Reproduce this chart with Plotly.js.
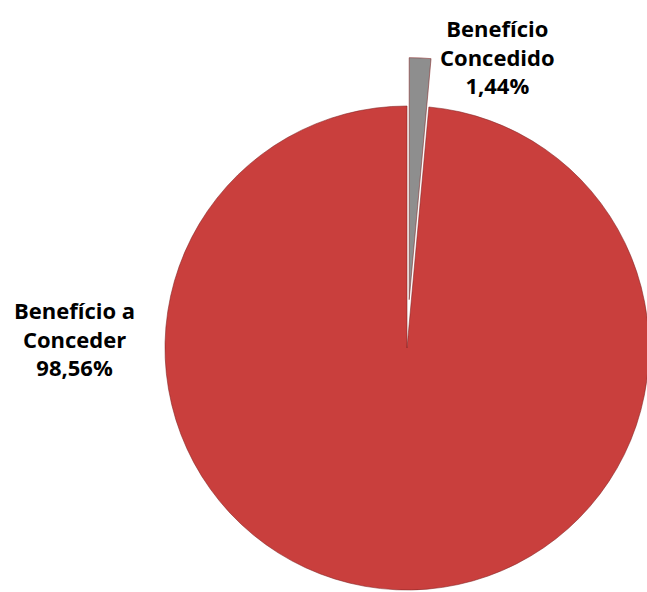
<!DOCTYPE html>
<html>
<head>
<meta charset="utf-8">
<script src="https://cdn.plot.ly/plotly-3.0.1.min.js"></script>
<style>
html, body { margin: 0; padding: 0; overflow: hidden; background: #ffffff; }
#chart { width: 814px; height: 696px; }
</style>
</head>
<body>
<div id="chart"></div>
<script>
// Data
var labels = ['Benefício Concedido', 'Benefício a Conceder'];
var values = [1.44, 98.56];
var labelTexts = ['Benefício<br>Concedido<br>1,44%', 'Benefício a<br>Conceder<br>98,56%'];
var sliceColors = ['#8E8E8E', '#C93F3D'];
var pulls = [0.2, 0];

var W = 814, H = 696;
var cx = 407, cy = 348, r = 242;
var S = 2 * r * (1 + Math.max.apply(null, pulls));

function px(x) { return x / W; }
function py(y) { return 1 - y / H; }

var trace = {
  type: 'pie',
  labels: labels,
  values: values,
  sort: false,
  direction: 'clockwise',
  rotation: 0,
  pull: pulls,
  textinfo: 'none',
  hoverinfo: 'none',
  marker: {
    colors: sliceColors,
    line: { color: 'rgba(130,35,35,0.55)', width: 1 }
  },
  domain: {
    x: [px(cx - S / 2), px(cx + S / 2)],
    y: [py(cy + S / 2), py(cy - S / 2)]
  },
  showlegend: false
};

var font = { family: 'Open Sans, sans-serif', size: 22, color: '#000000', weight: 'bold' };

var layout = {
  width: W,
  height: H,
  margin: { l: 0, r: 0, t: 0, b: 0 },
  paper_bgcolor: '#ffffff',
  showlegend: false,
  annotations: [
    { xref: 'paper', yref: 'paper', x: px(497), y: py(56), text: labelTexts[0],
      showarrow: false, xanchor: 'center', yanchor: 'middle', align: 'center', font: font },
    { xref: 'paper', yref: 'paper', x: px(74), y: py(339), text: labelTexts[1],
      showarrow: false, xanchor: 'center', yanchor: 'middle', align: 'center', font: font }
  ]
};

Plotly.newPlot('chart', [trace], layout, { displayModeBar: false, staticPlot: true });
</script>
</body>
</html>
